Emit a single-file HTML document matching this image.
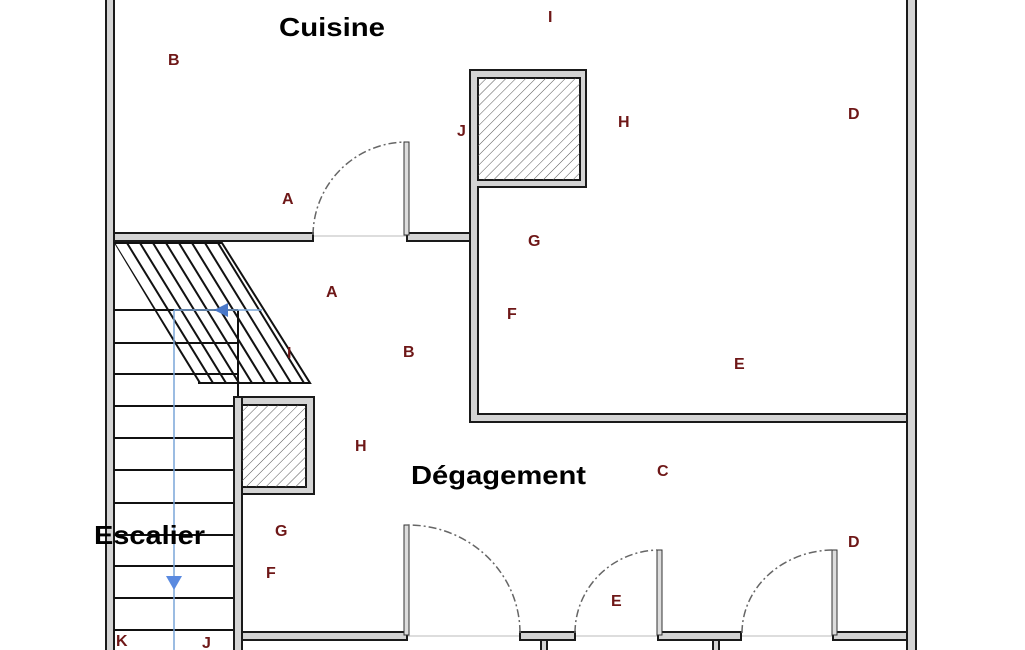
<!DOCTYPE html>
<html><head><meta charset="utf-8"><style>
html,body{margin:0;padding:0;background:#fff}
svg{display:block}
.w{fill:#d4d4d4;stroke:#1a1a1a;stroke-width:2}
.l{font-family:"Liberation Sans",sans-serif;font-weight:bold;font-size:16px;fill:#6e1717}
.t{font-family:"Liberation Sans",sans-serif;font-weight:bold;font-size:26px;fill:#000}
.arc{fill:none;stroke:#666;stroke-width:1.5;stroke-dasharray:8 3 2 3}
</style></head><body>
<svg width="1025" height="650" viewBox="0 0 1025 650">
<defs>
<pattern id="h" width="7" height="7" patternUnits="userSpaceOnUse" patternTransform="rotate(45)">
<line x1="0" y1="0" x2="0" y2="7" stroke="#555" stroke-width="1"/>
</pattern>
<clipPath id="pc"><polygon points="114,243 222,243 310,383 198,383"/></clipPath>
</defs>
<line x1="313" y1="236" x2="407" y2="236" stroke="#bbb" stroke-width="1"/>
<line x1="242" y1="636" x2="907" y2="636" stroke="#bbb" stroke-width="1"/>
<rect class="w" x="106" y="-5" width="8" height="660"/>
<rect class="w" x="907" y="-5" width="9" height="660"/>
<rect class="w" x="114" y="233" width="199" height="8"/>
<rect class="w" x="407" y="233" width="63" height="8"/>
<rect class="w" x="470" y="70" width="8" height="352"/>
<rect class="w" x="470" y="70" width="116" height="117"/>
<rect x="478" y="78" width="102" height="102" fill="#fff" stroke="#1a1a1a" stroke-width="2"/>
<rect x="478" y="78" width="102" height="102" fill="url(#h)"/>
<rect class="w" x="470" y="414" width="437" height="8"/>
<rect x="471" y="180" width="6" height="241" fill="#d4d4d4"/>
<rect x="471" y="415" width="435" height="6" fill="#d4d4d4"/>
<rect x="404" y="142" width="5" height="93" fill="#ddd" stroke="#333" stroke-width="1"/>
<path class="arc" d="M313,235 A94,94 0 0 1 405,142"/>
<g stroke="#111" stroke-width="2">
<line x1="114" y1="310" x2="238" y2="310"/>
<line x1="114" y1="343" x2="238" y2="343"/>
<line x1="114" y1="374" x2="238" y2="374"/>
<line x1="114" y1="406" x2="234" y2="406"/>
<line x1="114" y1="438" x2="234" y2="438"/>
<line x1="114" y1="470" x2="234" y2="470"/>
<line x1="114" y1="503" x2="234" y2="503"/>
<line x1="114" y1="535" x2="234" y2="535"/>
<line x1="114" y1="566" x2="234" y2="566"/>
<line x1="114" y1="598" x2="234" y2="598"/>
<line x1="114" y1="630" x2="234" y2="630"/>
<line x1="238" y1="310" x2="238" y2="397"/>
</g>
<g clip-path="url(#pc)" stroke="#111" stroke-width="2">
<line x1="114" y1="243" x2="200" y2="383"/>
<line x1="127" y1="243" x2="213" y2="383"/>
<line x1="140" y1="243" x2="226" y2="383"/>
<line x1="153" y1="243" x2="239" y2="383"/>
<line x1="166" y1="243" x2="252" y2="383"/>
<line x1="179" y1="243" x2="265" y2="383"/>
<line x1="192" y1="243" x2="278" y2="383"/>
<line x1="205" y1="243" x2="291" y2="383"/>
<line x1="218" y1="243" x2="304" y2="383"/>
</g>
<polyline points="114,243 222,243 310,383 198,383" fill="none" stroke="#111" stroke-width="2"/>
<g stroke="#7aa6d8" stroke-width="1.5" fill="none">
<line x1="174" y1="310" x2="174" y2="650"/>
<line x1="174" y1="310" x2="262" y2="310"/>
</g>
<polygon points="214,310 228,303 228,317" fill="#4a78c8"/>
<polygon points="166,576 182,576 174,590" fill="#5a8ae0"/>
<rect class="w" x="234" y="397" width="80" height="97"/>
<rect class="w" x="234" y="397" width="8" height="260"/>
<rect x="242" y="405" width="64" height="82" fill="#fff" stroke="#1a1a1a" stroke-width="2"/>
<rect x="242" y="405" width="64" height="82" fill="url(#h)"/>
<rect x="235" y="487" width="6" height="20" fill="#d4d4d4"/>
<rect class="w" x="242" y="632" width="165" height="8"/>
<rect class="w" x="520" y="632" width="55" height="8"/>
<rect class="w" x="541" y="640" width="6" height="15"/>
<rect class="w" x="658" y="632" width="83" height="8"/>
<rect class="w" x="713" y="640" width="6" height="15"/>
<rect class="w" x="833" y="632" width="74" height="8"/>
<rect x="404" y="525" width="5" height="110" fill="#ddd" stroke="#333" stroke-width="1"/>
<rect x="657" y="550" width="5" height="85" fill="#ddd" stroke="#333" stroke-width="1"/>
<rect x="832" y="550" width="5" height="85" fill="#ddd" stroke="#333" stroke-width="1"/>
<path class="arc" d="M520,633 A112,108 0 0 0 407,525"/>
<path class="arc" d="M575,633 A85,83 0 0 1 657,550"/>
<path class="arc" d="M742,633 A92,83 0 0 1 832,550"/>
<text class="t" x="279" y="36" textLength="106" lengthAdjust="spacingAndGlyphs">Cuisine</text>
<text class="t" x="411" y="484" textLength="175" lengthAdjust="spacingAndGlyphs">Dégagement</text>
<text class="t" x="94" y="544" textLength="111" lengthAdjust="spacingAndGlyphs">Escalier</text>
<text class="l" x="168" y="65">B</text>
<text class="l" x="548" y="22">I</text>
<text class="l" x="457" y="136">J</text>
<text class="l" x="618" y="127">H</text>
<text class="l" x="848" y="119">D</text>
<text class="l" x="282" y="204">A</text>
<text class="l" x="528" y="246">G</text>
<text class="l" x="326" y="297">A</text>
<text class="l" x="507" y="319">F</text>
<text class="l" x="403" y="357">B</text>
<text class="l" x="287" y="358">I</text>
<text class="l" x="734" y="369">E</text>
<text class="l" x="355" y="451">H</text>
<text class="l" x="657" y="476">C</text>
<text class="l" x="275" y="536">G</text>
<text class="l" x="848" y="547">D</text>
<text class="l" x="266" y="578">F</text>
<text class="l" x="611" y="606">E</text>
<text class="l" x="116" y="646">K</text>
<text class="l" x="202" y="648">J</text>
</svg>
</body></html>
